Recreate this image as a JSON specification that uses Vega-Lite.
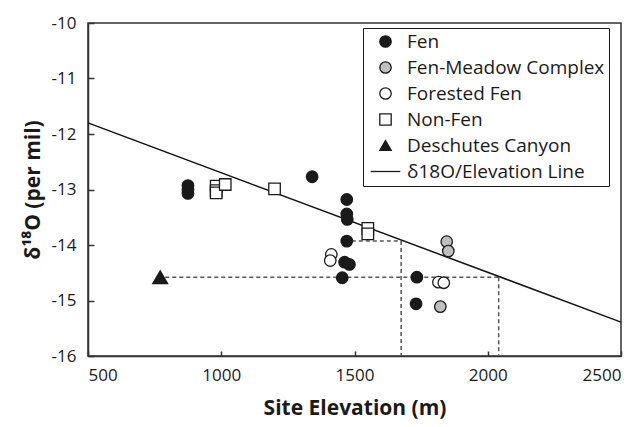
{
  "$schema": "https://vega.github.io/schema/vega-lite/v6.json",
  "width": 533,
  "height": 333,
  "autosize": {"type": "none"},
  "padding": {"left": 88, "top": 23, "right": 23, "bottom": 71},
  "background": "white",
  "config": {
    "font": "Open Sans",
    "view": {"stroke": "#333333", "strokeWidth": 1.5},
    "axis": {
      "grid": false,
      "domainColor": "#333333",
      "domainWidth": 1.5,
      "tickColor": "#333333",
      "tickWidth": 1.5,
      "labelColor": "#1a1a1a",
      "titleColor": "#1a1a1a",
      "labelFontSize": 17,
      "titleFontSize": 21,
      "titleFontWeight": "bold",
      "labelFont": "Open Sans",
      "titleFont": "Open Sans"
    }
  },
  "datasets": {
    "guides": [
      {"elev": 790, "elev2": 2041, "d18O": -14.58, "d18O2": -14.58},
      {"elev": 2041, "elev2": 2041, "d18O": -14.58, "d18O2": -16},
      {"elev": 1490, "elev2": 1675, "d18O": -13.93, "d18O2": -13.93},
      {"elev": 1675, "elev2": 1675, "d18O": -13.93, "d18O2": -16}
    ],
    "fit": [
      {"elev": 500, "d18O": -11.8},
      {"elev": 2500, "d18O": -15.39}
    ],
    "sites": [
      {"group": "Fen", "elev": 875, "d18O": -12.93},
      {"group": "Fen", "elev": 875, "d18O": -13.0},
      {"group": "Fen", "elev": 875, "d18O": -13.07},
      {"group": "Fen", "elev": 1341, "d18O": -12.77},
      {"group": "Fen", "elev": 1471, "d18O": -13.18},
      {"group": "Fen", "elev": 1471, "d18O": -13.44},
      {"group": "Fen", "elev": 1473, "d18O": -13.54},
      {"group": "Fen", "elev": 1471, "d18O": -13.93},
      {"group": "Fen", "elev": 1463, "d18O": -14.31},
      {"group": "Fen", "elev": 1481, "d18O": -14.35},
      {"group": "Fen", "elev": 1454, "d18O": -14.59},
      {"group": "Fen", "elev": 1734, "d18O": -14.58},
      {"group": "Fen", "elev": 1731, "d18O": -15.06},
      {"group": "Fen-Meadow Complex", "elev": 1846, "d18O": -13.94},
      {"group": "Fen-Meadow Complex", "elev": 1852, "d18O": -14.11},
      {"group": "Fen-Meadow Complex", "elev": 1822, "d18O": -15.11},
      {"group": "Forested Fen", "elev": 1413, "d18O": -14.17},
      {"group": "Forested Fen", "elev": 1409, "d18O": -14.28},
      {"group": "Forested Fen", "elev": 1815, "d18O": -14.67},
      {"group": "Forested Fen", "elev": 1835, "d18O": -14.68},
      {"group": "Non-Fen", "elev": 981, "d18O": -12.94},
      {"group": "Non-Fen", "elev": 981, "d18O": -13.02},
      {"group": "Non-Fen", "elev": 981, "d18O": -13.06},
      {"group": "Non-Fen", "elev": 1015, "d18O": -12.91},
      {"group": "Non-Fen", "elev": 1200, "d18O": -12.99},
      {"group": "Non-Fen", "elev": 1550, "d18O": -13.7},
      {"group": "Non-Fen", "elev": 1550, "d18O": -13.8},
      {"group": "Deschutes Canyon", "elev": 771, "d18O": -14.58}
    ]
  },
  "encoding": {
    "x": {
      "field": "elev",
      "type": "quantitative",
      "scale": {"domain": [500, 2500], "nice": false, "zero": false},
      "axis": {
        "values": [500, 1000, 1500, 2000, 2500],
        "labelExpr": "'' + datum.value",
        "title": "Site Elevation (m)",
        "tickSize": -5,
        "labelPadding": 16,
        "titlePadding": 14
      }
    },
    "y": {
      "field": "d18O",
      "type": "quantitative",
      "scale": {"domain": [-16, -10], "nice": false, "zero": false},
      "axis": {
        "values": [-16, -15, -14, -13, -12, -11, -10],
        "labelExpr": "'' + datum.value",
        "title": "δ¹⁸O (per mil)",
        "tickSize": -6,
        "labelPadding": 18,
        "titlePadding": 8
      }
    }
  },
  "layer": [
    {
      "data": {"name": "guides"},
      "mark": {"type": "rule", "stroke": "#555555", "strokeWidth": 1.5, "strokeDash": [4, 3]},
      "encoding": {
        "x2": {"field": "elev2"},
        "y2": {"field": "d18O2"}
      }
    },
    {
      "data": {"name": "fit"},
      "mark": {"type": "line", "stroke": "#111111", "strokeWidth": 1.5},
      "encoding": {}
    },
    {
      "data": {"name": "sites"},
      "mark": {"type": "point", "filled": true, "opacity": 1, "strokeWidth": 1.3},
      "encoding": {
        "size": {
          "condition": {"test": "datum.group === 'Deschutes Canyon'", "value": 220},
          "value": 132
        },
        "shape": {
          "field": "group",
          "type": "nominal",
          "scale": {
            "domain": ["Fen", "Fen-Meadow Complex", "Forested Fen", "Non-Fen", "Deschutes Canyon", "δ18O/Elevation Line"],
            "range": ["circle", "circle", "circle", "square", "triangle-up", "M-2.6,0L2.6,0"]
          },
          "legend": {
            "title": null,
            "orient": "none",
            "legendX": 275,
            "legendY": 5,
            "strokeColor": "#1a1a1a",
            "fillColor": "white",
            "padding": 4,
            "labelFontSize": 19,
            "labelLimit": 400,
            "labelColor": "#1a1a1a",
            "labelFont": "Open Sans",
            "symbolSize": 130,
            "symbolStrokeWidth": 1.3,
            "rowPadding": 6,
            "labelOffset": 12,
            "symbolOffset": 9
          }
        },
        "fill": {
          "field": "group",
          "type": "nominal",
          "scale": {
            "domain": ["Fen", "Fen-Meadow Complex", "Forested Fen", "Non-Fen", "Deschutes Canyon", "δ18O/Elevation Line"],
            "range": ["#1a1a1a", "#bfbfbf", "#ffffff", "#ffffff", "#1a1a1a", "transparent"]
          }
        },
        "stroke": {
          "field": "group",
          "type": "nominal",
          "scale": {
            "domain": ["Fen", "Fen-Meadow Complex", "Forested Fen", "Non-Fen", "Deschutes Canyon", "δ18O/Elevation Line"],
            "range": ["#1a1a1a", "#1a1a1a", "#1a1a1a", "#1a1a1a", "#1a1a1a", "#1a1a1a"]
          }
        }
      }
    }
  ]
}
